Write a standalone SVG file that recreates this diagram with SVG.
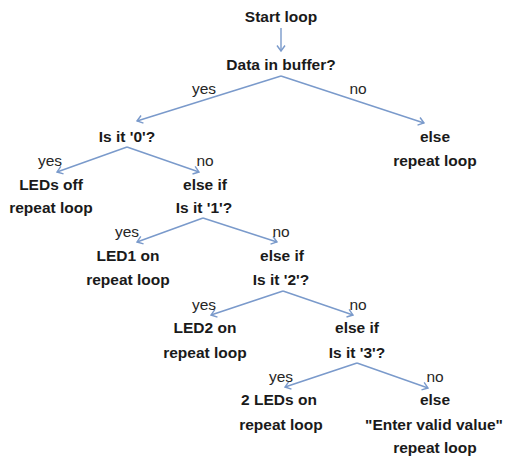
<svg xmlns="http://www.w3.org/2000/svg" width="505" height="460" viewBox="0 0 505 460">
<style>
.n{font-family:"Liberation Sans",Arial,sans-serif;font-weight:bold;font-size:15.5px;fill:#1a1a1a;text-anchor:middle}
.l{font-family:"Liberation Sans",Arial,sans-serif;font-size:15.5px;fill:#262626;text-anchor:middle}
.c{stroke:#7a9acb;stroke-width:1.4;fill:none;marker-end:url(#ah)}
</style>
<defs>
<marker id="ah" markerUnits="userSpaceOnUse" markerWidth="14" markerHeight="14" refX="7" refY="7" orient="auto">
<path d="M1.5,3 L7,7 L1.5,11" fill="none" stroke="#7a9acb" stroke-width="1.4"/>
</marker>
</defs>
<rect width="505" height="460" fill="#ffffff"/>
<g id="connectors">
<line class="c" x1="281" y1="28" x2="281" y2="51"/>
<line class="c" x1="281" y1="76" x2="137" y2="121"/>
<line class="c" x1="281" y1="76" x2="424" y2="123"/>
<line class="c" x1="127" y1="147" x2="57" y2="172"/>
<line class="c" x1="127" y1="147" x2="199" y2="172"/>
<line class="c" x1="203" y1="218" x2="137" y2="242"/>
<line class="c" x1="203" y1="218" x2="277" y2="242"/>
<line class="c" x1="283" y1="291" x2="211" y2="315"/>
<line class="c" x1="283" y1="291" x2="353" y2="315"/>
<line class="c" x1="357" y1="363" x2="285" y2="387"/>
<line class="c" x1="357" y1="363" x2="428" y2="388"/>
</g>
<g id="labels">
<text class="l" x="204" y="94">yes</text>
<text class="l" x="358" y="94">no</text>
<text class="l" x="50" y="166">yes</text>
<text class="l" x="205" y="166">no</text>
<text class="l" x="127" y="237">yes</text>
<text class="l" x="281" y="237">no</text>
<text class="l" x="204" y="310">yes</text>
<text class="l" x="358" y="310">no</text>
<text class="l" x="281" y="382">yes</text>
<text class="l" x="435" y="382">no</text>
</g>
<g id="start"><text class="n" x="281" y="22">Start loop</text></g>
<g id="data"><text class="n" x="281" y="70">Data in buffer?</text></g>
<g id="is0"><text class="n" x="127" y="142">Is it '0'?</text></g>
<g id="else0"><text class="n" x="435" y="142">else</text><text class="n" x="435" y="166">repeat loop</text></g>
<g id="ledsoff"><text class="n" x="51" y="190">LEDs off</text><text class="n" x="51" y="213">repeat loop</text></g>
<g id="is1"><text class="n" x="205" y="190">else if</text><text class="n" x="204" y="213">Is it '1'?</text></g>
<g id="led1"><text class="n" x="128" y="261">LED1 on</text><text class="n" x="128" y="285">repeat loop</text></g>
<g id="is2"><text class="n" x="282" y="261">else if</text><text class="n" x="281" y="285">Is it '2'?</text></g>
<g id="led2"><text class="n" x="205" y="333">LED2 on</text><text class="n" x="205" y="358">repeat loop</text></g>
<g id="is3"><text class="n" x="357" y="333">else if</text><text class="n" x="357" y="358">Is it '3'?</text></g>
<g id="leds2"><text class="n" x="279" y="405">2 LEDs on</text><text class="n" x="281" y="430">repeat loop</text></g>
<g id="invalid"><text class="n" x="435" y="405">else</text><text class="n" x="434" y="430">"Enter valid value"</text><text class="n" x="435" y="453">repeat loop</text></g>
</svg>
